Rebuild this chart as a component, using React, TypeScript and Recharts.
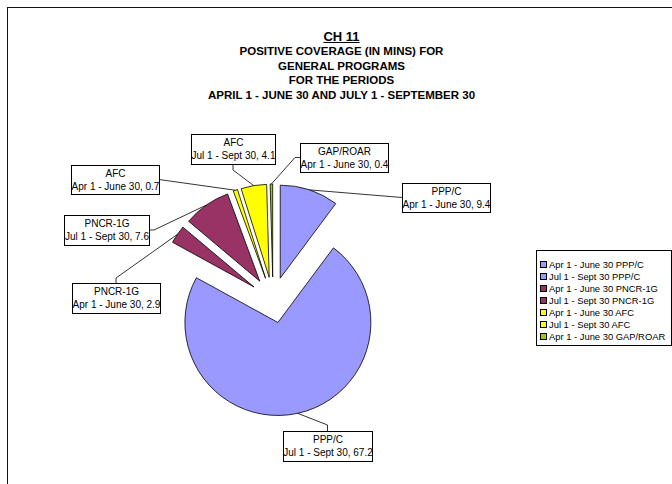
import React from "react";
import { Legend, Pie, PieChart, Sector } from "recharts";

const programs = ["PPP/C", "PPP/C", "PNCR-1G", "PNCR-1G", "AFC", "AFC", "GAP/ROAR"];
const periods = [
  "Apr 1 - June 30",
  "Jul 1 - Sept 30",
  "Apr 1 - June 30",
  "Jul 1 - Sept 30",
  "Apr 1 - June 30",
  "Jul 1 - Sept 30",
  "Apr 1 - June 30",
];
const minutes = [9.4, 67.2, 2.9, 7.6, 0.7, 4.1, 0.4];
const titleLines = [
  "POSITIVE COVERAGE (IN MINS) FOR",
  "GENERAL PROGRAMS",
  "FOR THE PERIODS",
  "APRIL 1 - JUNE 30 AND JULY 1 - SEPTEMBER 30",
];

const colors = ["#9999FF", "#9999FF", "#993366", "#993366", "#FFFF00", "#FFFF00", "#99CC00"];

// callout boxes: rect, side the leader enters from, and length of the little stub
const callouts = [
  { x: 402, y: 183, w: 88, h: 29, side: "left", stub: 0 },
  { x: 283, y: 431, w: 89, h: 30, side: "top", stub: 6 },
  { x: 72, y: 283, w: 88, h: 30, side: "top", stub: 5 },
  { x: 64, y: 215, w: 85, h: 30, side: "right", stub: 5 },
  { x: 71, y: 165, w: 88, h: 29, side: "right", stub: 0 },
  { x: 191, y: 134, w: 84, h: 30, side: "bottom", stub: 6 },
  { x: 300, y: 143, w: 88, h: 29, side: "left", stub: 5 },
];

const EXPLODE = 23;
const font = "Arial, 'Liberation Sans', sans-serif";

const data = minutes.map((v, i) => ({
  name: `${periods[i]} ${programs[i]}`,
  value: v,
}));

function anchorOf(c: (typeof callouts)[number]) {
  if (c.side === "left") return [[c.x, c.y + c.h / 2], [c.x - c.stub, c.y + c.h / 2]];
  if (c.side === "right") return [[c.x + c.w, c.y + c.h / 2], [c.x + c.w + c.stub, c.y + c.h / 2]];
  if (c.side === "top") return [[c.x + c.w / 2, c.y], [c.x + c.w / 2, c.y - c.stub]];
  return [[c.x + c.w / 2, c.y + c.h], [c.x + c.w / 2, c.y + c.h + c.stub]];
}

const renderSlice = (props: any) => {
  const { cx, cy, outerRadius, startAngle, endAngle, midAngle, index } = props;
  const rad = (-midAngle * Math.PI) / 180;
  const ox = cx + EXPLODE * Math.cos(rad);
  const oy = cy + EXPLODE * Math.sin(rad);
  const ex = ox + outerRadius * Math.cos(rad);
  const ey = oy + outerRadius * Math.sin(rad);
  const c = callouts[index];
  const [a, s] = anchorOf(c);
  return (
    <g>
      <Sector
        cx={ox}
        cy={oy}
        innerRadius={0}
        outerRadius={outerRadius}
        startAngle={startAngle}
        endAngle={endAngle}
        fill={colors[index]}
        stroke="#000"
        strokeWidth={0.8}
      />
      <polyline
        points={`${ex},${ey} ${s[0]},${s[1]} ${a[0]},${a[1]}`}
        fill="none"
        stroke="#000"
        strokeWidth={0.8}
      />
      <rect x={c.x + 0.5} y={c.y + 0.5} width={c.w} height={c.h} fill="#fff" stroke="#000" strokeWidth={1} />
      <text x={c.x + c.w / 2 + 0.5} textAnchor="middle" fontFamily={font} fontSize={10} fill="#000">
        <tspan x={c.x + c.w / 2 + 0.5} y={c.y + 12}>
          {programs[index]}
        </tspan>
        <tspan x={c.x + c.w / 2 + 0.5} y={c.y + 25}>
          {`${periods[index]}, ${minutes[index]}`}
        </tspan>
      </text>
    </g>
  );
};

const renderLegend = () => (
  <div
    style={{
      border: "1px solid #000",
      boxSizing: "border-box",
      width: 136,
      height: 96,
      padding: "7px 0 0 3px",
      background: "#fff",
      fontFamily: font,
      fontSize: 9.4,
    }}
  >
    {data.map((d, i) => (
      <div key={i} style={{ display: "flex", alignItems: "center", height: 12, whiteSpace: "nowrap" }}>
        <span
          style={{
            display: "inline-block",
            width: 5,
            height: 5,
            border: "1px solid #000",
            background: colors[i],
            marginRight: 2,
          }}
        />
        {d.name}
      </div>
    ))}
  </div>
);

export default function App() {
  return (
    <div style={{ position: "absolute", left: 0, top: 0, width: 672, height: 484, overflow: "hidden", background: "#fff" }}>
      <div
        style={{
          position: "absolute",
          left: 7,
          top: 7,
          width: 700,
          height: 500,
          border: "1px solid #111",
        }}
      />
      <div
        style={{
          position: "absolute",
          left: 0,
          top: 30,
          width: 683,
          textAlign: "center",
          fontFamily: font,
          fontWeight: "bold",
          fontSize: 13,
          lineHeight: "14px",
          textDecoration: "underline",
        }}
      >
        CH 11
      </div>
      {titleLines.map((t, i) => (
        <div
          key={t}
          style={{
            position: "absolute",
            left: 0,
            top: 44 + i * 14.5,
            width: 683,
            textAlign: "center",
            fontFamily: font,
            fontWeight: "bold",
            fontSize: 11.5,
            lineHeight: "14px",
          }}
        >
          {t}
        </div>
      ))}
      <PieChart width={672} height={484} margin={{ top: 0, right: 0, bottom: 0, left: 0 }} style={{ position: "absolute", left: 0, top: 0 }}>
        <Pie
          data={data}
          dataKey="value"
          nameKey="name"
          cx={273}
          cy={300}
          outerRadius={93}
          startAngle={90}
          endAngle={-270}
          fill="none"
          stroke="none"
          label={renderSlice}
          labelLine={false}
          isAnimationActive={false}
        />
        <Legend content={renderLegend} wrapperStyle={{ left: 536, top: 250, width: 136, height: 96 }} />
      </PieChart>
    </div>
  );
}
